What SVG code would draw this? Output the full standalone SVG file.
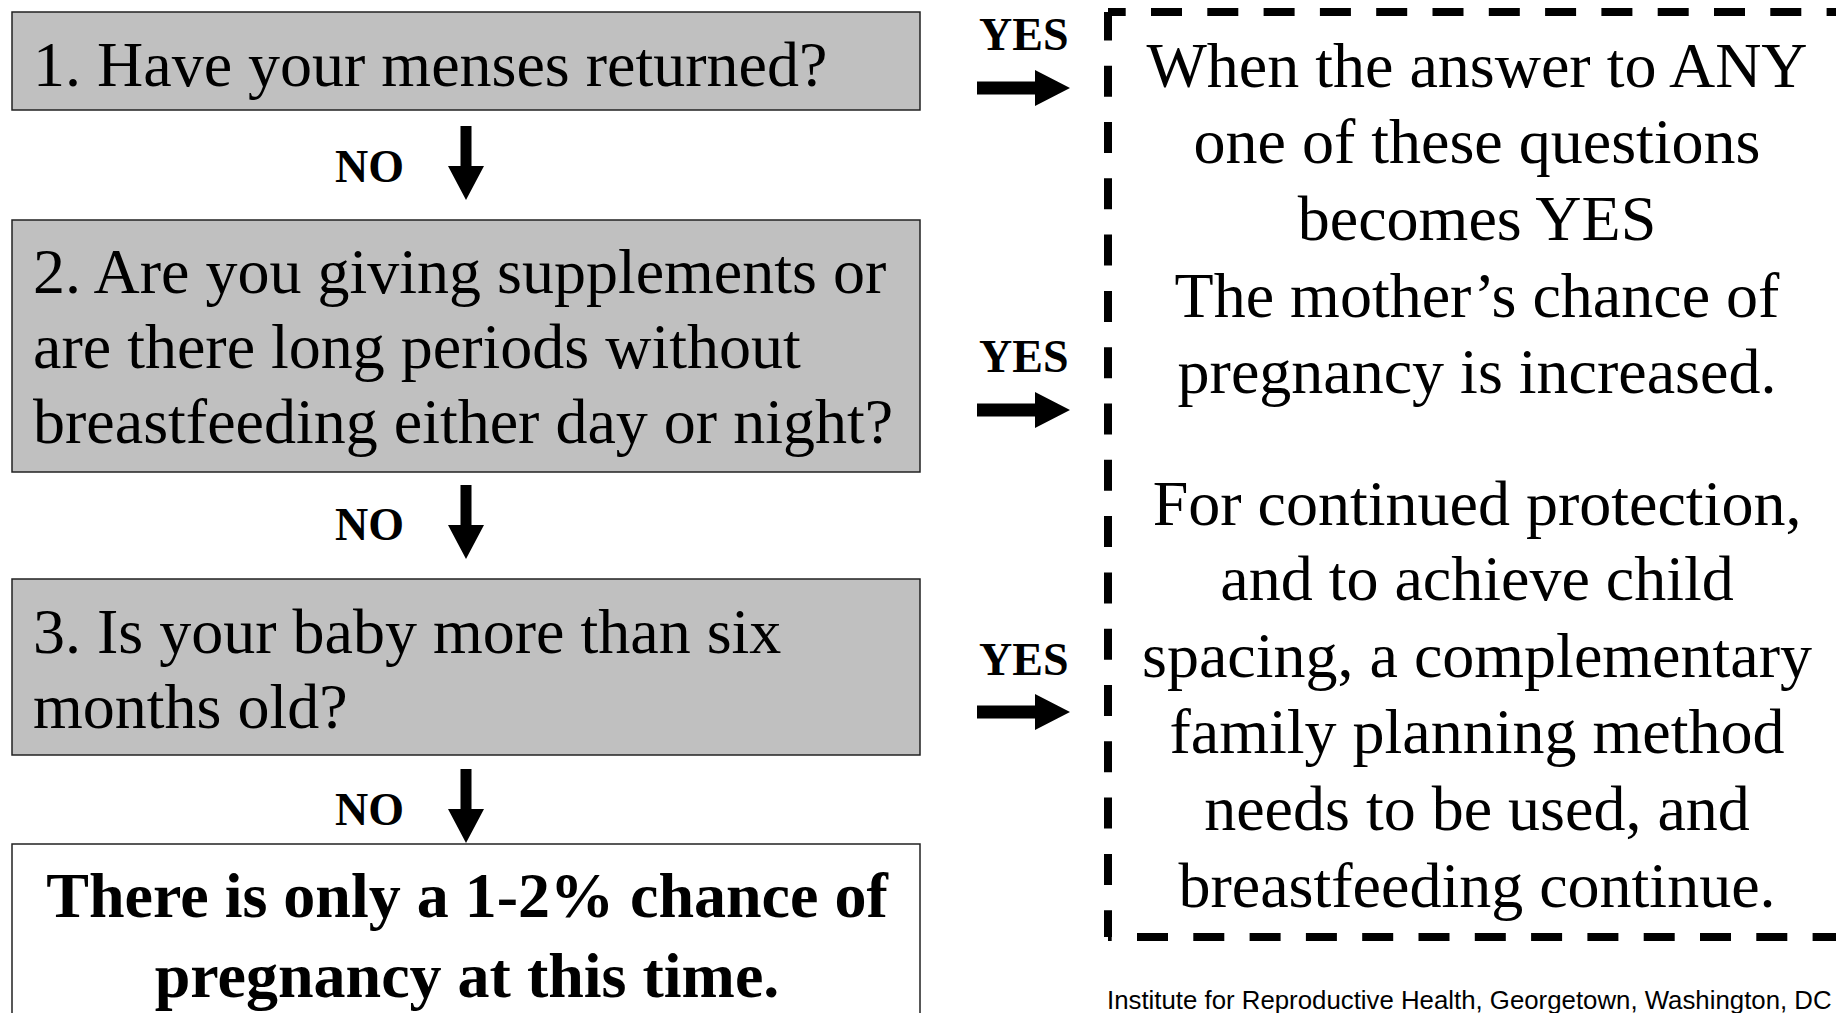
<svg xmlns="http://www.w3.org/2000/svg" width="1836" height="1013" viewBox="0 0 1836 1013">
<style>
  .q { fill: #c0c0c0; stroke: #222; stroke-width: 1.5; }
  .r { fill: #ffffff; stroke: #222; stroke-width: 1.5; }
  .t { font-family: "Liberation Serif", "Times New Roman", serif; font-size: 64px; fill: #000; }
  .tb { font-family: "Liberation Serif", "Times New Roman", serif; font-size: 64px; font-weight: bold; fill: #000; }
  .lab { font-family: "Liberation Serif", "Times New Roman", serif; font-size: 46px; font-weight: bold; fill: #000; }
  .dash { fill: none; stroke: #000; stroke-width: 8; stroke-dasharray: 31 25.3; }
  .foot { font-family: "Liberation Sans", Arial, sans-serif; font-size: 25.8px; fill: #000; }
  .arr { fill: #000; }
</style>
<defs>
  <path id="down" d="M-5.5,0 H5.5 V40 H18 L0,74 L-18,40 H-5.5 Z"/>
  <path id="right" d="M0,-6.5 H58 V-18 L93,0 L58,18 V6.5 H0 Z"/>
</defs>
<rect width="1836" height="1013" fill="#ffffff"/>

<g id="q1">
  <rect class="q" x="12" y="12" width="908" height="98"/>
  <text class="t" x="33" y="86">1. Have your menses returned?</text>
</g>
<g id="q2">
  <rect class="q" x="12" y="220" width="908" height="252"/>
  <text class="t" x="33" y="293">2. Are you giving supplements or</text>
  <text class="t" x="33" y="368">are there long periods without</text>
  <text class="t" x="33" y="443">breastfeeding either day or night?</text>
</g>
<g id="q3">
  <rect class="q" x="12" y="579" width="908" height="176"/>
  <text class="t" x="33" y="653">3. Is your baby more than six</text>
  <text class="t" x="33" y="728">months old?</text>
</g>
<g id="result-no">
  <rect class="r" x="12" y="844" width="908" height="190"/>
  <text class="tb" x="467" y="917" text-anchor="middle">There is only a 1-2% chance of</text>
  <text class="tb" x="467" y="997" text-anchor="middle">pregnancy at this time.</text>
</g>
<g id="result-yes">
  <path class="dash" d="M1108,12 H1850" stroke-dashoffset="13.3"/>
  <path class="dash" d="M1108,12 V937" stroke-dashoffset="2.6"/>
  <path class="dash" d="M1108,937 H1850" stroke-dashoffset="27.3"/>
  <g class="t" text-anchor="middle">
    <text x="1477" y="87">When the answer to ANY</text>
    <text x="1477" y="163">one of these questions</text>
    <text x="1477" y="240">becomes YES</text>
    <text x="1477" y="317">The mother’s chance of</text>
    <text x="1477" y="393">pregnancy is increased.</text>
    <text x="1477" y="525">For continued protection,</text>
    <text x="1477" y="600">and to achieve child</text>
    <text x="1477" y="677">spacing, a complementary</text>
    <text x="1477" y="753">family planning method</text>
    <text x="1477" y="830">needs to be used, and</text>
    <text x="1477" y="907">breastfeeding continue.</text>
  </g>
</g>

<g id="connectors">
  <use href="#down" class="arr" x="466" y="126"/>
  <use href="#down" class="arr" x="466" y="485"/>
  <use href="#down" class="arr" x="466" y="769"/>
  <text class="lab" x="335" y="182">NO</text>
  <text class="lab" x="335" y="540">NO</text>
  <text class="lab" x="335" y="825">NO</text>
  <use href="#right" class="arr" x="977" y="88"/>
  <use href="#right" class="arr" x="977" y="410"/>
  <use href="#right" class="arr" x="977" y="712"/>
  <text class="lab" x="979" y="50">YES</text>
  <text class="lab" x="979" y="372">YES</text>
  <text class="lab" x="979" y="675">YES</text>
</g>

<text class="foot" x="1107" y="1009">Institute for Reproductive Health, Georgetown, Washington, DC</text>
</svg>
